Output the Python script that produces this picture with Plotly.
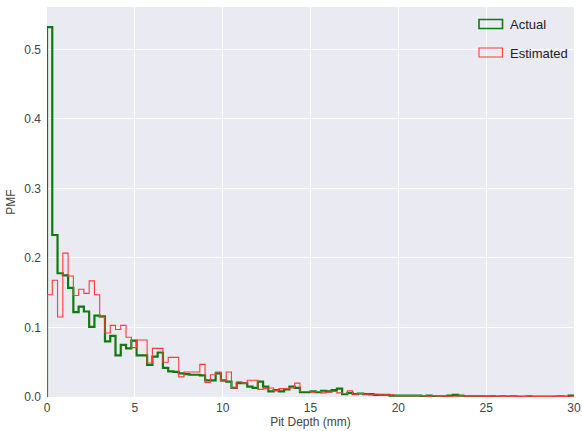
import numpy as np
import plotly.graph_objects as go

# Bin layout (0-30 mm, 100 bins)
bin_start = 0.0
bin_width = 0.3
n_bins = 100

actual_pmf = [
    0.532, 0.233, 0.178, 0.175, 0.157, 0.122, 0.130, 0.123, 0.101, 0.117,
    0.116, 0.080, 0.088, 0.060, 0.075, 0.070, 0.081, 0.060, 0.060, 0.046,
    0.058, 0.064, 0.042, 0.037, 0.036, 0.034, 0.033, 0.032, 0.032, 0.031,
    0.024, 0.024, 0.034, 0.024, 0.022, 0.013, 0.020, 0.020, 0.015, 0.013,
    0.022, 0.015, 0.008, 0.010, 0.008, 0.011, 0.015, 0.013, 0.007, 0.007,
    0.008, 0.007, 0.009, 0.008, 0.010, 0.012, 0.004, 0.006, 0.004, 0.005,
    0.004, 0.004, 0.003, 0.003, 0.003, 0.002, 0.002, 0.002, 0.002, 0.002,
    0.002, 0.001, 0.002, 0.001, 0.001, 0.001, 0.002, 0.003, 0.002, 0.001,
    0.001, 0.001, 0.001, 0.001, 0.001, 0.0005, 0.001, 0.0005, 0.001, 0.0005,
    0.0005, 0.001, 0.0005, 0.0005, 0.0005, 0.0005, 0.0005, 0.001, 0.0005, 0.002,
]

estimated_pmf = [
    0.147, 0.168, 0.115, 0.207, 0.174, 0.146, 0.155, 0.149, 0.167, 0.147,
    0.115, 0.092, 0.103, 0.097, 0.103, 0.086, 0.071, 0.082, 0.082, 0.049,
    0.070, 0.070, 0.050, 0.057, 0.057, 0.029, 0.036, 0.036, 0.036, 0.047,
    0.021, 0.032, 0.036, 0.023, 0.036, 0.013, 0.022, 0.020, 0.024, 0.024,
    0.011, 0.012, 0.013, 0.009, 0.012, 0.012, 0.013, 0.020, 0.008, 0.008,
    0.007, 0.008, 0.006, 0.007, 0.008, 0.006, 0.005, 0.009, 0.004, 0.005,
    0.004, 0.003, 0.004, 0.003, 0.003, 0.003, 0.002, 0.002, 0.002, 0.002,
    0.002, 0.002, 0.001, 0.002, 0.001, 0.001, 0.001, 0.001, 0.002, 0.001,
    0.001, 0.001, 0.001, 0.0005, 0.001, 0.001, 0.0005, 0.001, 0.0005, 0.0005,
    0.0005, 0.001, 0.0005, 0.0005, 0.0005, 0.0005, 0.001, 0.0005, 0.0005, 0.001,
]

series_names = ["Actual", "Estimated"]
x_ticks = [0, 5, 10, 15, 20, 25, 30]
y_ticks = [0.0, 0.1, 0.2, 0.3, 0.4, 0.5]

edges = bin_start + bin_width * np.arange(n_bins + 1)


def step_xy(values):
    xs = np.concatenate([[edges[0]], edges])
    ys = np.concatenate([[0.0], np.asarray(values, dtype=float), [0.0]])
    return xs, ys


fig = go.Figure()
colors = ["#0f7a0f", "#ff3b3b"]
widths = [2.2, 1.1]
for name, vals, col, w in zip(series_names, [actual_pmf, estimated_pmf], colors, widths):
    xs, ys = step_xy(vals)
    fig.add_trace(go.Scatter(x=xs, y=ys, mode="lines", line=dict(color=col, width=w, shape="hv"),
                             name=name, showlegend=False, hoverinfo="skip", cliponaxis=True))

# Legend drawn matplotlib-style: outlined boxes + labels
W, H = 582, 431
ml, mr, mt, mb = 47, 8, 7, 34
pw, ph = W - ml - mr, H - mt - mb


def px(x):
    return (x - ml) / pw


def py(y):
    return 1 - (y - mt) / ph


legend_rows = [(19.5, 28.5, 24.5), (48, 57, 53)]
for (y0, y1, yc), name, col in zip(legend_rows, series_names, colors):
    fig.add_shape(type="rect", xref="paper", yref="paper", x0=px(479), x1=px(502.5), y0=py(y1), y1=py(y0),
                  line=dict(color=col, width=1.6 if col == colors[0] else 1.1), fillcolor="rgba(0,0,0,0)")
    fig.add_annotation(xref="paper", yref="paper", x=px(508), y=py(yc), text=name, showarrow=False,
                       xanchor="left", yanchor="middle", font=dict(family="Liberation Sans, Arial", size=13, color="#222"))

fig.update_layout(
    width=W, height=H,
    margin=dict(l=ml, r=mr, t=mt, b=mb, autoexpand=False),
    paper_bgcolor="white",
    plot_bgcolor="#EAEAF2",
    font=dict(family="Liberation Sans, Arial", size=12, color="#444"),
    showlegend=False,
)
fig.update_xaxes(range=[0, 30], tickvals=x_ticks, ticktext=[str(t) for t in x_ticks], automargin=False,
                 showgrid=True, gridcolor="white", gridwidth=1.3, zeroline=False, showline=False,
                 ticks="", ticklabelstandoff=2, ticklabeloverflow="allow",
                 title=dict(text="Pit Depth (mm)", font=dict(size=12, color="#444"), standoff=2),
                 tickfont=dict(size=12, color="#444"))
fig.update_yaxes(range=[0, 0.561], tickvals=y_ticks, ticktext=[f"{t:.1f}" for t in y_ticks], automargin=False,
                 showgrid=True, gridcolor="white", gridwidth=1.3, zeroline=False, showline=False,
                 ticks="", ticklabelstandoff=5, ticklabeloverflow="allow",
                 title=dict(text="PMF", font=dict(size=12, color="#444"), standoff=6),
                 tickfont=dict(size=12, color="#444"))

fig.write_html("out.html", config={"displayModeBar": False},
               post_script="document.body.style.margin='0';")
